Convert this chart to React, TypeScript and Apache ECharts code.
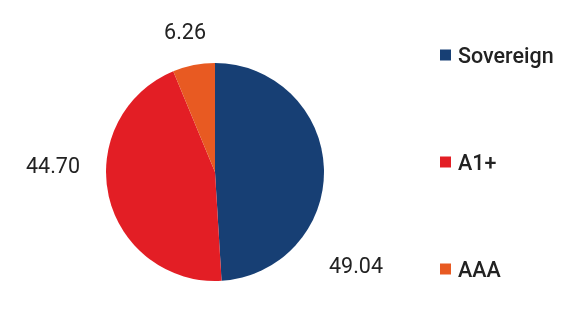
import React, { useEffect, useRef } from "react";
import * as echarts from "echarts";

const categories = ["Sovereign", "A1+", "AAA"];
const values = [49.04, 44.7, 6.26];
const valueLabels = ["49.04", "44.70", "6.26"];
const colors = ["#173f74", "#e31e25", "#e85a22"];
// label anchor positions (pixels) for each slice label
const labelPositions = [
  [356, 265],
  [53, 165],
  [185, 31],
];

export default function App() {
  const ref = useRef<HTMLDivElement>(null);
  useEffect(() => {
    if (!ref.current) return;
    const chart = echarts.init(ref.current, null, { renderer: "svg" });
    chart.setOption({
      animation: false,
      color: colors,
      textStyle: { fontFamily: "Roboto" },
      legend: {
        orient: "vertical",
        left: 435,
        top: 39,
        itemWidth: 11,
        itemHeight: 11,
        itemGap: 85,
        icon: "rect",
        data: categories,
        textStyle: {
          fontSize: 21.5,
          fontWeight: 500,
          color: "#222",
          fontFamily: "Roboto",
          padding: [0, 0, 0, 2],
        },
      },
      series: [
        {
          type: "pie",
          center: [215, 172],
          radius: 109,
          startAngle: 90,
          clockwise: true,
          data: categories.map((c, i) => ({
            name: c,
            value: values[i],
            label: { formatter: valueLabels[i] },
          })),
          label: {
            show: true,
            position: "inside",
            fontSize: 21.5,
            fontWeight: 400,
            color: "#222",
            fontFamily: "Roboto",
            overflow: "none",
          },
          labelLine: { show: false },
          labelLayout: (params: any) => {
            const p = labelPositions[params.dataIndex];
            return { x: p[0], y: p[1], align: "center", verticalAlign: "middle" };
          },
          emphasis: { disabled: true },
          itemStyle: { borderWidth: 0 },
        },
      ],
    });
    return () => chart.dispose();
  }, []);
  return (
    <div
      ref={ref}
      style={{ position: "fixed", left: 0, top: 0, width: 584, height: 313 }}
    />
  );
}
